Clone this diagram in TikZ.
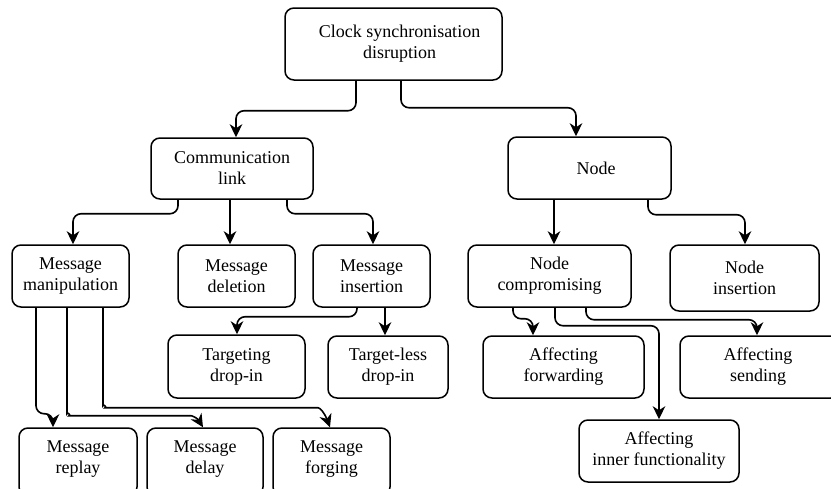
\documentclass[tikz,border=0pt]{standalone}
\usepackage{fontspec}
\setmainfont{Liberation Serif}
\usetikzlibrary{arrows.meta,bending}
\newcommand{\lowstrut}{\rule[-10pt]{0pt}{10pt}}
\begin{document}
\begin{tikzpicture}[x=1pt,y=-1pt,
  box/.style={draw, line width=1.5pt, rounded corners=9pt, align=center,
    font=\fontsize{18}{21}\selectfont, inner sep=0pt,
    minimum width=117pt, minimum height=62pt},
  conn/.style={line width=1.6pt, rounded corners=8pt,
    -{Stealth[length=13pt,width=12.5pt,inset=4pt]}}]
  \fill[white] (0,0) rectangle (831,488);
  \useasboundingbox (0,0) rectangle (831,488);

  % root
  \node[box, minimum width=217pt, minimum height=72pt] (root) at (393.5,44)
    {\hspace*{12pt}Clock synchronisation\\\hspace*{12pt}disruption};

  % second level
  \node[box, minimum width=162pt, minimum height=61pt] (comm) at (232,168.5) {Communication\\link};
  \node[box, minimum width=163pt] (node) at (589.5,168) {\hspace*{13pt}Node};

  % third level
  \node[box] (manip) at (70.5,276) {Message\\manipulation};
  \node[box] (del) at (236.5,276) {Message\\deletion};
  \node[box] (ins) at (371.5,276) {Message\\insertion};
  \node[box, minimum width=163pt] (comp) at (549.5,276) {Node\\compromising};
  \node[box, minimum width=149pt, minimum height=66pt] (nins) at (744.5,278) {Node\\insertion};

  % fourth level
  \node[box, minimum width=137pt, minimum height=63pt] (targ) at (236.5,366.5) {Targeting\\drop-in};
  \node[box, minimum width=120pt] (tless) at (388,367) {Target-less\\drop-in};
  \node[box, minimum width=161pt] (fwd) at (563.5,367) {Affecting\\forwarding};
  \node[box, minimum width=160pt] (send) at (760,367) {\hspace*{-4pt}Affecting\\\hspace*{-4pt}sending};
  \node[box, minimum width=160pt] (inner) at (659,451) {Affecting\\inner functionality};

  % bottom row (runs past the lower edge)
  \node[box, minimum width=118pt, minimum height=68pt] (replay) at (78,462) {Message\\replay\lowstrut};
  \node[box, minimum width=116pt, minimum height=68pt] (delay) at (205,462) {Message\\delay\lowstrut};
  \node[box, minimum height=68pt] (forge) at (331.5,462) {Message\\forging\lowstrut};

  % connectors
  \draw[conn] ([xshift=-37.5pt]root.south) -- ++(0,30) -| ([xshift=4pt]comm.north);
  \draw[conn] ([xshift=7.5pt]root.south) -- ++(0,27) -| ([xshift=-13.5pt]node.north);

  \draw[conn] ([xshift=-54pt]comm.south) -- ++(0,14) -| ([xshift=2.5pt]manip.north);
  \draw[conn] ([xshift=-2pt]comm.south) -- ([xshift=-6.5pt]del.north);
  \draw[conn] ([xshift=55pt]comm.south) -- ++(0,14) -| ([xshift=1.5pt]ins.north);

  \draw[conn] ([xshift=-35.5pt]node.south) -- ([xshift=4.5pt]comp.north);
  \draw[conn] ([xshift=58.5pt]node.south) -- ++(0,15) -| ([xshift=0.5pt]nins.north);

  \draw[conn] ([xshift=-14.5pt]ins.south) -- ++(0,9) -| ([xshift=0.5pt]targ.north);
  \draw[conn] ([xshift=13.5pt]ins.south) -- ([xshift=-3pt]tless.north);

  \draw[conn] ([xshift=-34.5pt]manip.south) -- ++(0,106) -| ([xshift=-25pt]replay.north);
  \draw[conn] ([xshift=-3.5pt]manip.south) -- ++(0,98)
    to[out=-90,in=180] ++(10,10) -- ++(106,0)
    to[out=0,in=105] ([xshift=-2pt]delay.north);
  \draw[conn] ([xshift=32.5pt]manip.south) -- ++(0,90)
    to[out=-90,in=180] ++(10,10) -- ++(197,0)
    to[out=0,in=105] ([xshift=-1.5pt]forge.north);

  \draw[conn] ([xshift=-36.5pt]comp.south) -- ++(0,11) -| ([xshift=-30.5pt]fwd.north);
  \draw[conn] ([xshift=5.5pt]comp.south) -- ++(0,18) -| (inner.north);
  \draw[conn] ([xshift=36.5pt]comp.south) -- ++(0,12) -| ([xshift=-3pt]send.north);
\end{tikzpicture}
\end{document}
